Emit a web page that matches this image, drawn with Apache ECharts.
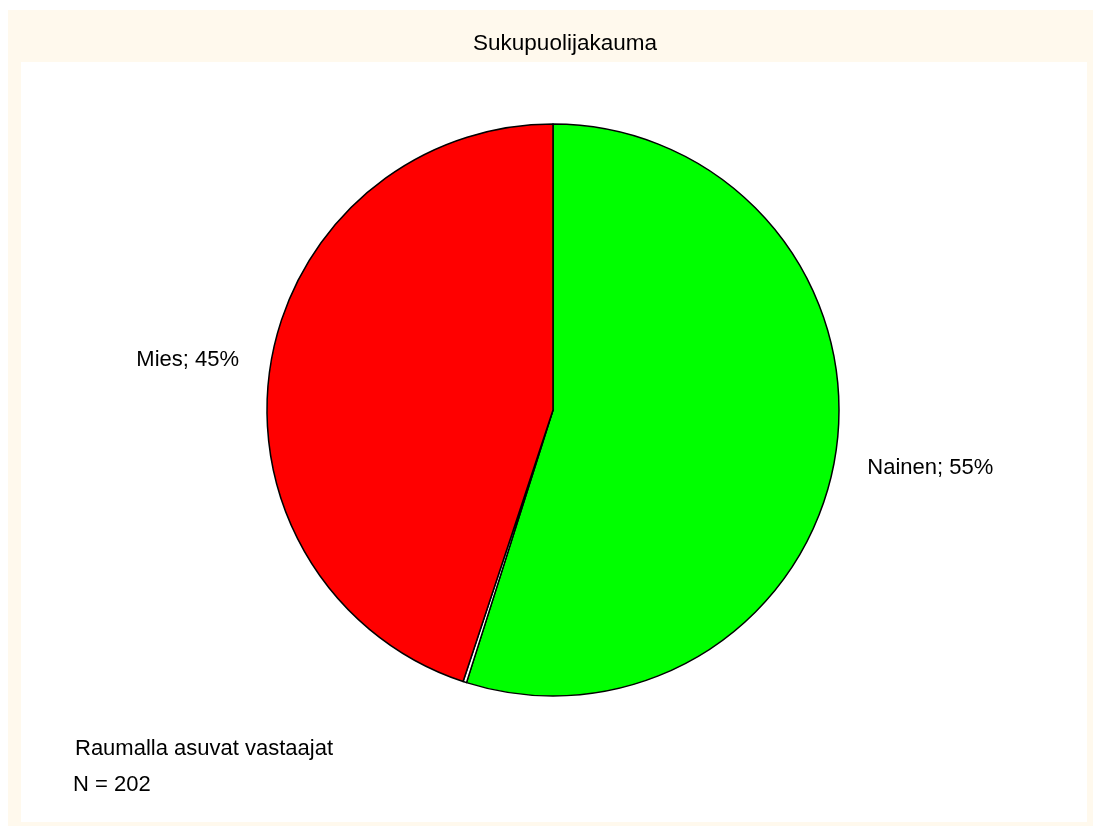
<!DOCTYPE html>
<html>
<head>
<meta charset="utf-8">
<script src="https://cdn.jsdelivr.net/npm/echarts@6/dist/echarts.min.js"></script>
<style>
  html, body { margin: 0; padding: 0; background: #ffffff; }
  #chart { width: 1094px; height: 826px; }
</style>
</head>
<body>
<div id="chart"></div>
<script>
// Gender distribution of respondents living in Rauma
const categories = ['Nainen', '', 'Mies'];
const shares = [55, 0.2, 45];           // percent
const sliceColors = ['#00ff00', '#ffffff', '#ff0000'];
const chartTitle = 'Sukupuolijakauma';
const noteLines = ['Raumalla asuvat vastaajat', 'N = 202'];

const FONT = '"Liberation Sans", Arial, sans-serif';

const chart = echarts.init(document.getElementById('chart'), null, { renderer: 'canvas' });

const pieData = categories.map((name, i) => ({
  name: name,
  value: shares[i],
  itemStyle: { color: sliceColors[i] },
  label: { show: name !== '' }
}));

chart.setOption({
  backgroundColor: '#ffffff',
  animation: false,
  graphic: [
    { type: 'rect', z: -10, shape: { x: 8, y: 10, width: 1085, height: 816 }, style: { fill: '#fff9ed' } },
    { type: 'rect', z: -9, shape: { x: 21, y: 62, width: 1066, height: 760 }, style: { fill: '#ffffff' } }
  ],
  title: [
    {
      text: chartTitle, left: 560, top: 27, textAlign: 'center',
      textStyle: { fontFamily: FONT, fontSize: 22.5, fontWeight: 'normal', color: '#000' }
    },
    {
      text: noteLines[0], left: 70, top: 733,
      textStyle: { fontFamily: FONT, fontSize: 22, fontWeight: 'normal', color: '#000' }
    },
    {
      text: noteLines[1], left: 68, top: 769,
      textStyle: { fontFamily: FONT, fontSize: 22, fontWeight: 'normal', color: '#000' }
    }
  ],
  series: [{
    type: 'pie',
    center: [553, 410],
    radius: [0, 286],
    startAngle: 90,
    clockwise: true,
    avoidLabelOverlap: false,
    minShowLabelAngle: 0,
    itemStyle: { borderColor: '#000', borderWidth: 1.5 },
    label: {
      position: 'outside',
      formatter: p => p.name + '; ' + p.value + '%',
      fontFamily: FONT,
      fontSize: 22,
      color: '#000',
      distanceToLabelLine: 3
    },
    labelLine: { show: false, length: 29, length2: 0 },
    // the right-hand label sits a little lower than its radial anchor
    labelLayout: p => (p.dataIndex === 0 ? { dy: 10 } : {}),
    emphasis: { disabled: true },
    data: pieData
  }]
});
</script>
</body>
</html>
